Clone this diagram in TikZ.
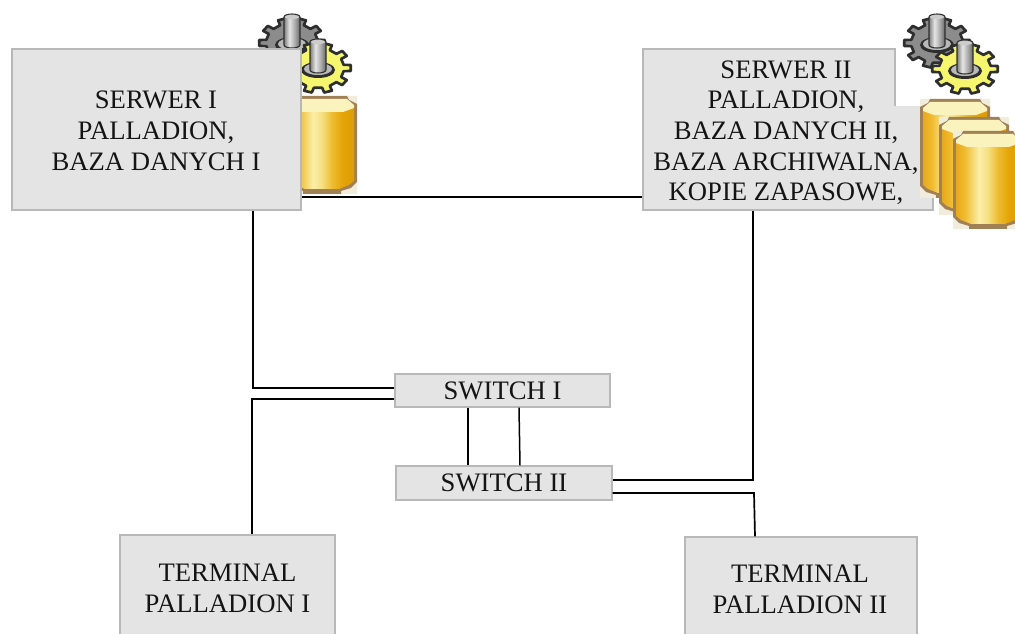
\documentclass[tikz,border=0pt]{standalone}
\usepackage{fontspec}
\setmainfont{Liberation Serif}
\definecolor{boxfill}{HTML}{E4E4E4}
\definecolor{boxline}{HTML}{B8B8B8}
\definecolor{cylline}{HTML}{A08055}
\definecolor{cylpatch}{HTML}{F1ECDC}
\definecolor{cylcap}{HTML}{FBF3BE}
\definecolor{gearline}{HTML}{2E2E2E}
\definecolor{geargray}{HTML}{8C8C8C}
\definecolor{gearyellow}{HTML}{F5F56E}
\definecolor{ga}{HTML}{E8A91A}
\definecolor{gb}{HTML}{F0BC30}
\definecolor{gc}{HTML}{FBEFA8}
\definecolor{gd}{HTML}{F6DF80}
\definecolor{ge}{HTML}{EDBB30}
\definecolor{gf}{HTML}{E5A406}
\definecolor{gg}{HTML}{DC9C05}
\pgfdeclarehorizontalshading{cylbody}{100bp}{color(0bp)=(ga);color(25bp)=(ga);color(32bp)=(gb);color(43bp)=(gc);color(50bp)=(gd);color(58bp)=(ge);color(66bp)=(gf);color(75bp)=(gg);color(100bp)=(gg)}
\pgfdeclarehorizontalshading{boltbody}{100bp}{color(0bp)=(gray);color(25bp)=(gray);color(42bp)=(white!90!black);color(60bp)=(gray!70);color(75bp)=(black!60);color(100bp)=(black!60)}
\tikzset{
  x=0.75pt,y=-0.75pt,
  wire/.style={draw=black,line width=1.7*0.75pt},
  thinwire/.style={draw=black,line width=1.5*0.75pt},
  graybox/.style={draw=boxline,fill=boxfill,line width=1.1pt,inner sep=0pt,rectangle,anchor=center},
  label/.style={inner sep=0pt,align=center,font=\fontsize{20}{23}\selectfont,text=black!92},
  patch/.style={fill=white,draw=none},
}
% gray box spanning pixel corners
\newcommand{\grbox}[6]{%
  \pgfmathsetmacro{\bw}{(#4-#2)*0.75}\pgfmathsetmacro{\bh}{(#5-#3)*0.75}%
  \node[graybox,label,minimum width=\bw pt,minimum height=\bh pt] (#1) at ({(#2+#4)/2},{(#3+#5)/2}) {#6};}
% cylinder: x0,y0,w,h
\newcommand{\cylinder}[4]{%
  \begin{scope}[shift={(#1,#2)}]
    \fill[white] (0,0) rectangle (#3,#4);
    \fill[cylpatch] (0,0) rectangle (10,8) (#3,0) rectangle ({#3-10},8) (0,{#4-12}) rectangle (16,#4) (#3,{#4-12}) rectangle ({#3-16},#4);
    \fill[cylline] (0,8) -- (8,4) -- (10,0) -- ({#3-10},0) -- ({#3-8},4) -- (#3,8) -- (#3,{#4-12}) -- ({#3-6},{#4-6}) -- ({#3-16},{#4-3}) -- ({#3-16},#4) -- (16,#4) -- (16,{#4-3}) -- (6,{#4-6}) -- (0,{#4-12}) -- cycle;
    \shade[shading=cylbody] (3,10) -- ({#3-3},10) -- ({#3-3},{#4-13}) -- ({#3-8},{#4-9}) -- ({#3-18},{#4-5}) -- (18,{#4-5}) -- (8,{#4-9}) -- (3,{#4-13}) -- cycle;
    \fill[cylcap] (3,9) -- (10,3) -- ({#3-10},3) -- ({#3-3},9) -- ({#3-3},12) -- ({#3-14},16) -- (14,16) -- (3,12) -- cycle;
  \end{scope}}
% gear: cx,cy,fill
\newcommand{\gear}[3]{%
  \begin{scope}[shift={(#1,#2)}]
    \draw[draw=gearline,line width=2pt,fill=#3,line join=round]
      (-9:26 and 20) \foreach \a in {0,36,...,324}{ -- (\a-9:26 and 20) -- (\a-7:33 and 25) -- (\a+7:33 and 25) -- (\a+9:26 and 20)} -- cycle;
    \fill[gearline] (0,2) ellipse (17 and 8);
    \fill[gray!55] (0,1) ellipse (14 and 6);
    \shade[shading=boltbody] (-8,-26) arc (180:360:8 and 3) -- (8,2) arc (0:180:8 and 3) -- cycle;
    \draw[gearline,line width=0.8pt] (-8,-26) arc (180:360:8 and 3) -- (8,2) arc (0:180:8 and 3) -- cycle;
    \fill[gray!40] (0,-26) ellipse (7 and 2);
  \end{scope}}
\begin{document}
\begin{tikzpicture}
\clip (0,0) rectangle (1015,634);
\fill[white] (0,0) rectangle (1015,634);
% left server icons
\gear{292}{43}{geargray}
\gear{318}{68}{gearyellow}
\cylinder{287}{96}{70}{98}
% boxes
\grbox{srvone}{12}{49}{301}{210}{}
\node[label] (srvonetext) at (156,130.7) {SERWER I\\PALLADION,\\BAZA DANYCH I};
\grbox{srvtwo}{643}{49}{933}{210}{}
\fill[patch] (895.5,47) rectangle (936,106);
\draw[boxline,line width=1.1pt] (933,106) -- (933,210);
\draw[boxline,line width=1.1pt] (895,49) -- (895,106);
\node[label] (srvtwotext) at (786,132.7) {SERWER II\\PALLADION,\\BAZA DANYCH II,\\BAZA ARCHIWALNA,\\KOPIE ZAPASOWE,};
\cylinder{920}{99}{70}{99}
\cylinder{939}{117}{70}{98}
\cylinder{953}{131}{70}{98}
\gear{937}{43}{geargray}
\gear{965}{69}{gearyellow}
\grbox{swone}{395}{374}{610}{407}{SWITCH I}
\grbox{swtwo}{396}{466}{612}{500}{SWITCH II}
\grbox{termone}{120}{535}{335}{650}{}
\grbox{termtwo}{685}{537}{917}{650}{}
\node[label] (termonetext) at (227.5,588.2) {TERMINAL\\PALLADION I};
\node[label] (termtwotext) at (800,589.2) {TERMINAL\\PALLADION II};
% connectors
\draw[wire] (srvone.east |- 0,197) -- (srvtwo.west |- 0,197);
\draw[wire] (srvone.south -| 253,0) -- (253,388) -- (swone.west |- 0,388);
\draw[wire] (swone.west |- 0,399) -- (252,399) -- (termone.north -| 252,0);
\draw[thinwire] (swone.south -| 468,0) -- (swtwo.north -| 468,0);
\draw[thinwire] (swone.south -| 519,0) -- (swtwo.north -| 520,0);
\draw[wire] (srvtwo.south -| 753,0) -- (753,480) -- (swtwo.east |- 0,480);
\draw[wire] (swtwo.east |- 0,493) -- (754,493) -- (termtwo.north -| 755,0);
\end{tikzpicture}
\end{document}
